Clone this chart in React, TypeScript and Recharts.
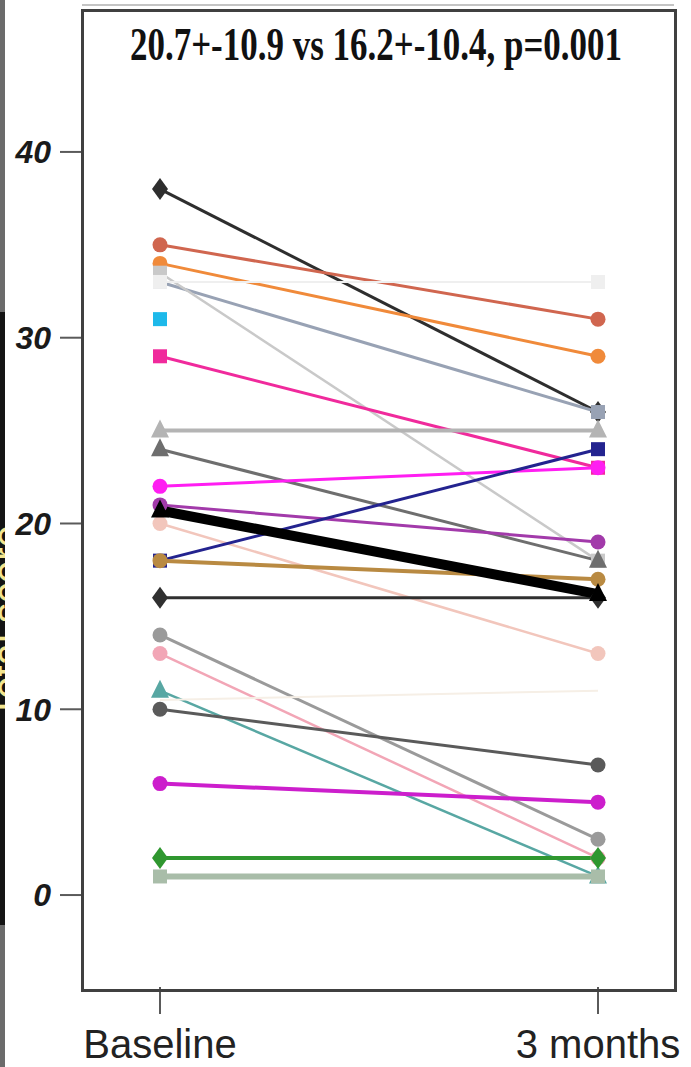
import React from "react";
import { LineChart, Line, XAxis, YAxis } from "recharts";

const timepoints = ["Baseline", "3 months"];

// one value per subject, same order in both arrays
const baseline = [38, 35, 34, 33, 33.5, 31, 33, 29, 25, 24, 22, 21, 20, 18, 18, 16, 14, 13, 11, 10, 10.5, 6, 2, 1];
const threeMonths = [26, 31, 29, 26, 18, null, 33, 23, 25, 18, 23, 19, 13, 24, 17, 16, 3, 2, 1, 7, 11, 5, 2, 1];
const meanValues = [20.7, 16.2];
const yTicks = [0, 10, 20, 30, 40];
const title = "20.7+-10.9 vs 16.2+-10.4, p=0.001";

const colors = [
  "#2e2e2e", "#d0664f", "#f08a3a", "#98a2b4", "#c9c9c9", "#1db9ea", "#efefef", "#f02a9c",
  "#b4b4b4", "#6e6e6e", "#ff1ef2", "#a23aaa", "#f2c6bc", "#23238f", "#b98a42", "#303030",
  "#9a9a9a", "#f2a6b6", "#58a7a3", "#5a5a5a", "#f6efe6", "#cc1ecc", "#2f972f", "#a9bda9",
];
const shapes = [
  "diamond", "circle", "circle", "square", "square", "square", "square", "square",
  "triangle", "triangle", "circle", "circle", "circle", "square", "circle", "diamond",
  "circle", "circle", "triangle", "circle", "none", "circle", "diamond", "square",
];
const widths = [3, 3, 3, 3, 2.5, 2, 2, 3, 4, 3, 3, 3, 2.5, 3, 4, 3, 3, 2.5, 2.5, 3, 2, 4, 4, 6];

const data = timepoints.map((name, i) => {
  const row: Record<string, number | string | null> = { name, mean: meanValues[i] };
  baseline.forEach((v, k) => {
    row[`p${k}`] = i === 0 ? v : threeMonths[k];
  });
  return row;
});

function makeDot(shape: string, color: string) {
  return (props: any) => {
    const { cx, cy, key, value } = props;
    if (shape === "none" || cx == null || cy == null || value == null) return <g key={key} />;
    if (shape === "diamond")
      return <polygon key={key} points={`${cx},${cy - 11} ${cx + 8},${cy} ${cx},${cy + 11} ${cx - 8},${cy}`} fill={color} />;
    if (shape === "square")
      return <rect key={key} x={cx - 7} y={cy - 7} width={14} height={14} fill={color} />;
    if (shape === "triangle")
      return <polygon key={key} points={`${cx},${cy - 11} ${cx + 9},${cy + 7} ${cx - 9},${cy + 7}`} fill={color} />;
    return <circle key={key} cx={cx} cy={cy} r={7.5} fill={color} />;
  };
}

export default function App() {
  return (
    <div style={{ position: "absolute", left: 0, top: 0, width: 691, height: 1067, background: "#fff", overflow: "hidden" }}>
      {/* clipped strip of a neighbouring panel on the left edge */}
      <div style={{ position: "absolute", left: 0, top: 0, width: 5, height: 1067, background: "#6b6b6b" }} />
      <div style={{ position: "absolute", left: 0, top: 312, width: 5, height: 613, background: "#141414", overflow: "hidden" }}>
        <div
          style={{
            position: "absolute", left: -300, top: 290, width: 613, textAlign: "center",
            transform: "rotate(-90deg)", color: "#f3e58f", fontFamily: "Liberation Sans",
            fontSize: 40, lineHeight: "40px", whiteSpace: "nowrap",
          }}
        >
          Total score
        </div>
      </div>
      <div style={{ position: "absolute", left: 82, top: 4, width: 592, height: 2, background: "#c4c4c4" }} />

      <LineChart width={691} height={1067} data={data} margin={{ top: 10, right: 19, bottom: 0, left: 0 }}>
        <XAxis
          dataKey="name"
          height={80}
          padding={{ left: 78, right: 74 }}
          axisLine={false}
          tickLine={{ stroke: "#5a5a5a", strokeWidth: 2 }}
          tickSize={27}
          tickMargin={16}
          interval={0}
          tick={{ fontSize: 40, fill: "#222", fontFamily: "Liberation Sans" }}
        />
        <YAxis
          width={82}
          domain={[-4.95, 47.64]}
          allowDataOverflow
          ticks={yTicks}
          axisLine={false}
          tickLine={{ stroke: "#5a5a5a", strokeWidth: 2 }}
          tickSize={22}
          tickMargin={9}
          tick={{ fontSize: 32, fill: "#1a1a1a", fontFamily: "Liberation Sans", fontWeight: "bold", fontStyle: "italic" }}
        />
        {baseline.map((_, k) => (
          <Line
            key={k}
            type="linear"
            dataKey={`p${k}`}
            stroke={colors[k]}
            strokeWidth={widths[k]}
            dot={makeDot(shapes[k], colors[k])}
            activeDot={false}
            isAnimationActive={false}
          />
        ))}
        <Line
          type="linear"
          dataKey="mean"
          stroke="#000"
          strokeWidth={10}
          dot={makeDot("triangle", "#000")}
          activeDot={false}
          isAnimationActive={false}
        />
      </LineChart>

      <div style={{ position: "absolute", left: 81, top: 9, width: 590, height: 977, border: "3px solid #404040", pointerEvents: "none" }} />
      <svg style={{ position: "absolute", left: 0, top: 0, pointerEvents: "none" }} width={691} height={90}>
        <text
          x={130}
          y={60}
          textLength={492}
          lengthAdjust="spacingAndGlyphs"
          fontFamily="Liberation Serif"
          fontWeight="bold"
          fontSize={46}
          fill="#111"
        >
          {title}
        </text>
      </svg>
    </div>
  );
}
